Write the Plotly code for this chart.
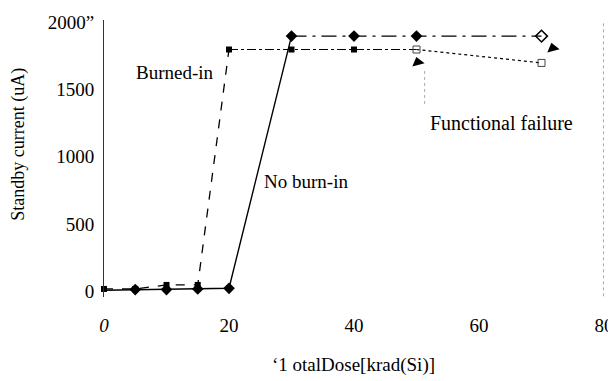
import plotly.graph_objects as go

# Data
dose_noburn = [0, 5, 10, 15, 20, 30, 40, 50, 70]
cur_noburn = [5, 10, 10, 15, 20, 1900, 1900, 1900, 1900]

dose_burn = [0, 5, 10, 15, 20, 30, 40, 50]
cur_burn = [15, 15, 45, 45, 1800, 1800, 1800, 1800]

dose_fail = [50, 70]
cur_fail = [1800, 1700]

arrow_x = [50.2, 71.8]
arrow_y = [1705, 1810]

x_ticks = [0, 20, 40, 60, 80]
x_ticklabels = ["<i>0</i>", "20", "40", "60", "80"]
y_ticks = [0, 500, 1000, 1500, 2000]
y_ticklabels = ["0", "500", "1000", "1500", "2000\u201d"]

FONT = "Liberation Serif"
fig = go.Figure()

# No burn-in: solid to 30, dash-dot afterwards
fig.add_trace(go.Scatter(x=dose_noburn[:6], y=cur_noburn[:6], mode="lines",
                         line=dict(color="black", width=1.4), showlegend=False, cliponaxis=False))
fig.add_trace(go.Scatter(x=dose_noburn[5:], y=cur_noburn[5:], mode="lines",
                         line=dict(color="black", width=1.1, dash="longdashdot"), showlegend=False))
# Burned-in: dashed to 20, dash-dot afterwards
fig.add_trace(go.Scatter(x=dose_burn[:5], y=cur_burn[:5], mode="lines",
                         line=dict(color="black", width=1.3, dash="dash"), showlegend=False, cliponaxis=False))
fig.add_trace(go.Scatter(x=dose_burn[4:], y=cur_burn[4:], mode="lines",
                         line=dict(color="black", width=1.1, dash="dashdot"), showlegend=False))
# Functional failure dotted segment
fig.add_trace(go.Scatter(x=dose_fail, y=cur_fail, mode="lines+markers",
                         line=dict(color="black", width=1.2, dash="dot"),
                         marker=dict(symbol="square-open", size=7, color="#444", line=dict(width=1)),
                         showlegend=False))
# markers
fig.add_trace(go.Scatter(x=dose_noburn[1:-1], y=cur_noburn[1:-1], mode="markers",
                         marker=dict(symbol="diamond", size=9, color="black"), showlegend=False))
fig.add_trace(go.Scatter(x=dose_noburn[-1:], y=cur_noburn[-1:], mode="markers",
                         marker=dict(symbol="diamond-open", size=9, color="black", line=dict(width=1.5)),
                         showlegend=False))
fig.add_trace(go.Scatter(x=dose_burn[:-1], y=cur_burn[:-1], mode="markers", cliponaxis=False,
                         marker=dict(symbol="square", size=6, color="black"), showlegend=False))
# arrow heads
fig.add_trace(go.Scatter(x=arrow_x, y=arrow_y, mode="markers", cliponaxis=False,
                         marker=dict(symbol="triangle-up", size=11, color="black", angle=-15),
                         showlegend=False))

fig.add_shape(type="line", x0=51.3, x1=51.3, y0=1640, y1=1380, xref="x", yref="y",
              line=dict(color="#aaa", width=1, dash="dot"))
fig.add_shape(type="line", x0=80, x1=80, y0=-40, y1=2000, xref="x", yref="y",
              line=dict(color="#555", width=1, dash="dot"))

fig.add_annotation(x=11.4, y=1630, xref="x", yref="y", text="Burned-in", showarrow=False,
                   xanchor="center", yanchor="middle", font=dict(family=FONT, size=19, color="black"))
fig.add_annotation(x=25.3, y=815, xref="x", yref="y", text="No burn-in", showarrow=False,
                   xanchor="left", yanchor="middle", font=dict(family=FONT, size=19, color="black"))
fig.add_annotation(x=51.8, y=1255, xref="x", yref="y", text="Functional failure", showarrow=False,
                   xanchor="left", yanchor="middle", font=dict(family=FONT, size=20, color="black"))

fig.add_annotation(x=0.498, y=-0.245, xref="paper", yref="paper",
                   text="\u20181 otalDose[krad(Si)]", showarrow=False,
                   xanchor="center", yanchor="middle", font=dict(family=FONT, size=19, color="black"))
fig.add_annotation(x=-0.17, y=0.55, xref="paper", yref="paper",
                   text="Standby current (uA)", showarrow=False, textangle=-90,
                   xanchor="center", yanchor="middle", font=dict(family=FONT, size=18, color="black"))

fig.update_layout(
    width=608, height=373,
    margin=dict(l=96, r=12, t=12, b=84),
    paper_bgcolor="white", plot_bgcolor="white",
    font=dict(family=FONT, size=19, color="black"),
    xaxis=dict(range=[0, 80], tickvals=x_ticks, ticktext=x_ticklabels, showgrid=False,
               zeroline=False, showline=False, ticks="", ticklabelstandoff=15, automargin=False),
    yaxis=dict(range=[-45, 2020], tickvals=y_ticks, ticktext=y_ticklabels, showgrid=False,
               zeroline=False, showline=True, linecolor="#333", linewidth=1, ticks="",
               ticklabelstandoff=5, automargin=False),
)

fig.write_html("out.html")
